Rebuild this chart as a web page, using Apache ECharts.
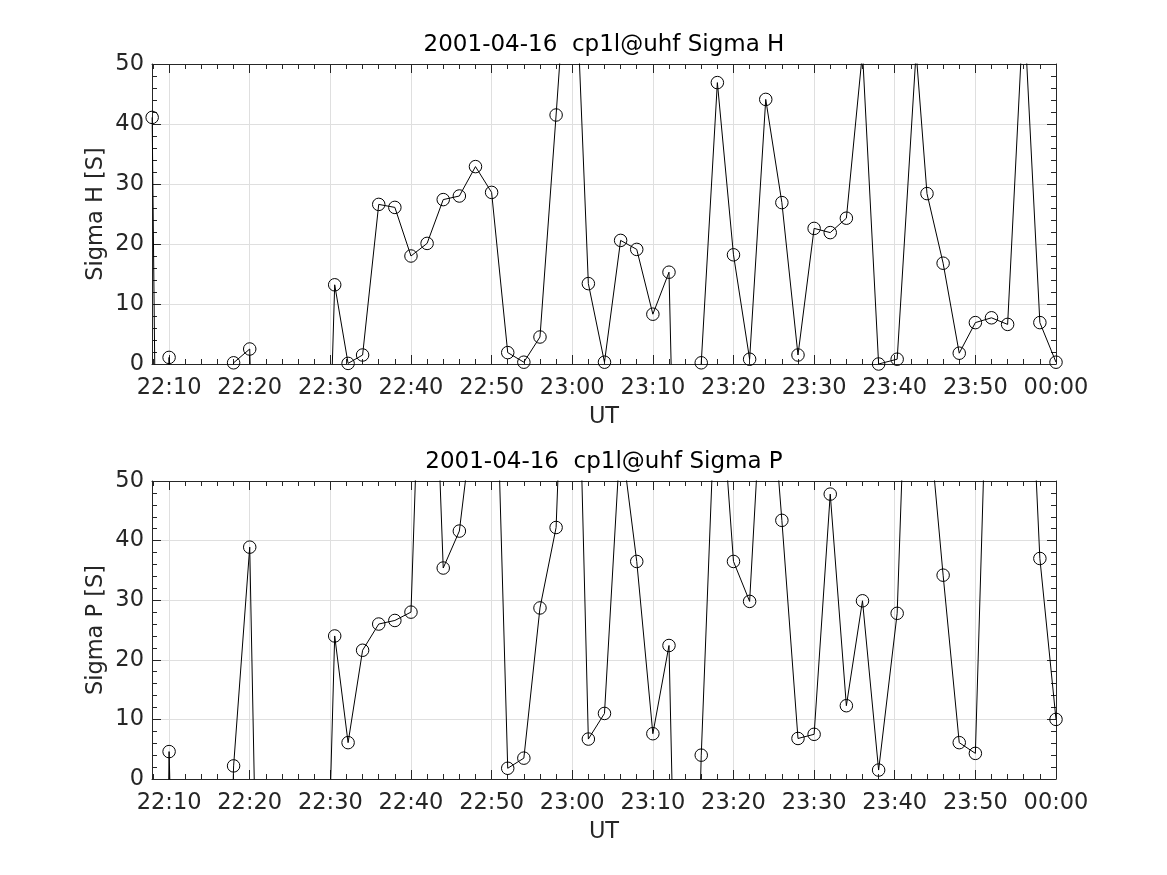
<!DOCTYPE html>
<html>
<head>
<meta charset="utf-8">
<script src="https://cdn.jsdelivr.net/npm/echarts@6/dist/echarts.min.js"></script>
<style>
html,body{margin:0;padding:0;background:#fff;}
#chart{width:1167px;height:875px;}
</style>
</head>
<body>
<div id="chart"></div>
<script>
// time in minutes after 22:00 UT
const times = [7.9, 9, 10, 12, 14, 16, 18, 20, 22, 24, 26, 28, 30.54, 32.2, 34, 36, 38, 40, 42, 44, 46, 48, 50,
  52, 54, 56, 58, 60, 62, 64, 66, 68, 70, 72, 74, 76, 78, 80, 82, 84, 86, 88, 90, 92, 94, 96, 98,
  100.3, 102.65, 104, 106, 108, 110, 112, 114, 116, 118, 120];
const sigmaH = [41.1, -100, 1.1, -100, -100, -100, 0.2, 2.5, -100, -100, -100, -100, 13.2, 0.1, 1.5, 26.6, 26.1, 18.0, 20.1, 27.4, 28.0, 32.9, 28.6,
  1.9, 0.3, 4.5, 41.5, 80, 13.4, 0.3, 20.6, 19.1, 8.3, 15.3, -100, 0.2, 46.9, 18.2, 0.8, 44.1, 26.9, 1.5, 22.6, 21.9, 24.3, 52, 0.0,
  0.8, 52, 28.4, 16.8, 1.8, 6.9, 7.7, 6.6, 60, 6.9, 0.3];
const sigmaP = [-100, -100, 4.6, -100, -100, -100, 2.2, 38.9, -100, -100, -100, -100, 24.0, 6.1, 21.6, 26.0, 26.6, 28.0, 109, 35.4, 41.6, 64, 98,
  1.8, 3.5, 28.7, 42.2, 115, 6.7, 11.0, 58, 36.5, 7.6, 22.4, -100, 4.0, 74, 36.5, 29.8, 78, 43.4, 6.8, 7.5, 47.8, 12.3, 29.9, 1.5,
  27.8, 120, 64, 34.2, 6.1, 4.3, 96, 110, 96, 37.0, 10.0];
const xTickValues = [10, 20, 30, 40, 50, 60, 70, 80, 90, 100, 110, 120];
const xTickLabels = ['22:10', '22:20', '22:30', '22:40', '22:50', '23:00', '23:10', '23:20', '23:30', '23:40', '23:50', '00:00'];
const titles = ['2001-04-16  cp1l@uhf Sigma H', '2001-04-16  cp1l@uhf Sigma P'];
const yNames = ['Sigma H [S]', 'Sigma P [S]'];
const xName = 'UT';

const xMinorValues = [];
for (let v = 8; v <= 120; v += 2) if (v % 10 !== 0) xMinorValues.push(v);

const X_MIN = 7.88, X_MAX = 120;
const FONT = 'DejaVu Sans';
const AX = '#262626';
const GRIDC = '#dfdfdf';
const FS = 22.5;

const grids = [
  {left: 152, top: 64, width: 904, height: 300},
  {left: 152, top: 481, width: 904, height: 298}
];

const xAxes = [], yAxes = [], series = [];
[0, 1].forEach(function (g) {
  xAxes.push({
    type: 'value', gridIndex: g, position: 'bottom', min: X_MIN, max: X_MAX,
    name: xName, nameLocation: 'middle', nameGap: 42,
    nameTextStyle: {fontFamily: FONT, fontSize: FS, color: AX},
    axisLine: {show: true, onZero: false, lineStyle: {color: AX, width: 1}},
    axisTick: {show: true, inside: true, length: 9, customValues: xTickValues, lineStyle: {color: AX}},
    axisLabel: {show: true, margin: 13, customValues: xTickValues, fontFamily: FONT, fontSize: FS, color: AX,
      formatter: function (v) { const i = xTickValues.indexOf(Math.round(v)); return i >= 0 ? xTickLabels[i] : ''; }},
    splitLine: {show: true, lineStyle: {color: GRIDC, width: 1}}
  });
  xAxes.push({
    type: 'value', gridIndex: g, position: 'bottom', min: X_MIN, max: X_MAX,
    axisLine: {show: false, onZero: false},
    axisTick: {show: true, inside: true, length: 5, customValues: xMinorValues, lineStyle: {color: AX}},
    axisLabel: {show: false}, splitLine: {show: false}
  });
  xAxes.push({
    type: 'value', gridIndex: g, position: 'top', min: X_MIN, max: X_MAX,
    axisLine: {show: true, onZero: false, lineStyle: {color: AX, width: 1}},
    axisTick: {show: true, inside: true, length: 9, customValues: xTickValues, lineStyle: {color: AX}},
    axisLabel: {show: false}, splitLine: {show: false}
  });
  xAxes.push({
    type: 'value', gridIndex: g, position: 'top', min: X_MIN, max: X_MAX,
    axisLine: {show: false, onZero: false},
    axisTick: {show: true, inside: true, length: 5, customValues: xMinorValues, lineStyle: {color: AX}},
    axisLabel: {show: false}, splitLine: {show: false}
  });
  yAxes.push({
    type: 'value', gridIndex: g, position: 'left', min: 0, max: 50, interval: 10,
    name: yNames[g], nameLocation: 'middle', nameGap: 44, nameMoveOverlap: false,
    nameTextStyle: {fontFamily: FONT, fontSize: FS, color: AX},
    axisLine: {show: true, onZero: false, lineStyle: {color: AX, width: 1}},
    axisTick: {show: true, inside: true, length: 9, lineStyle: {color: AX}},
    minorTick: {show: true, splitNumber: 5, length: 5, lineStyle: {color: AX}},
    axisLabel: {show: true, margin: 8, fontFamily: FONT, fontSize: FS, color: AX},
    splitLine: {show: true, lineStyle: {color: GRIDC, width: 1}}
  });
  yAxes.push({
    type: 'value', gridIndex: g, position: 'right', min: 0, max: 50, interval: 10,
    axisLine: {show: true, onZero: false, lineStyle: {color: AX, width: 1}},
    axisTick: {show: true, inside: true, length: 9, lineStyle: {color: AX}},
    minorTick: {show: true, splitNumber: 5, length: 5, lineStyle: {color: AX}},
    axisLabel: {show: false}, splitLine: {show: false}
  });
  const vals = g === 0 ? sigmaH : sigmaP;
  series.push({
    type: 'line', xAxisIndex: g * 4, yAxisIndex: g * 2,
    data: times.map(function (t, i) { return [t, vals[i]]; }),
    symbol: 'circle', symbolSize: 12.5, showAllSymbol: true, clip: true,
    itemStyle: {color: 'rgba(0,0,0,0)', borderColor: '#000', borderWidth: 1},
    lineStyle: {color: '#000', width: 1},
    emphasis: {disabled: true},
    z: 5
  });
});

const chart = echarts.init(document.getElementById('chart'), null, {renderer: 'canvas'});
chart.setOption({
  animation: false,
  backgroundColor: '#fff',
  grid: grids,
  xAxis: xAxes,
  yAxis: yAxes,
  series: series,
  graphic: [
    {type: 'text', x: 604, y: 45, style: {text: titles[0], fontFamily: FONT, fontSize: 23, fill: '#000', textAlign: 'center', textVerticalAlign: 'middle'}},
    {type: 'text', x: 604, y: 462, style: {text: titles[1], fontFamily: FONT, fontSize: 23, fill: '#000', textAlign: 'center', textVerticalAlign: 'middle'}}
  ]
});
</script>
</body>
</html>
